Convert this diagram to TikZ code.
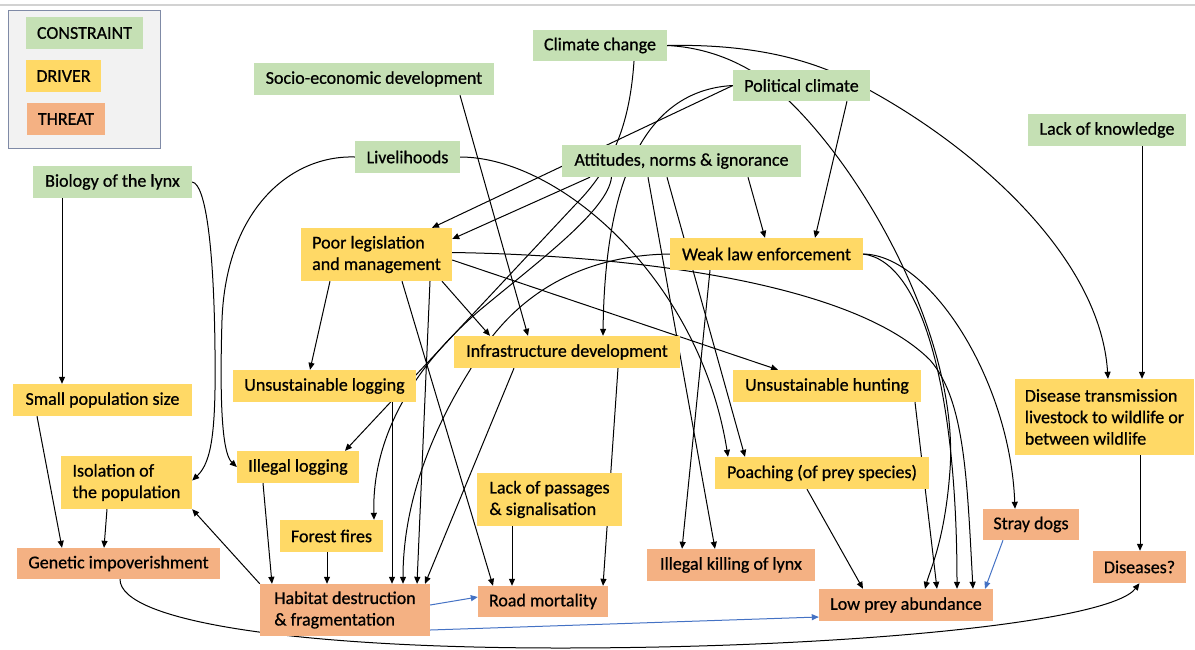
\documentclass[tikz,border=0pt]{standalone}
\usepackage{fontspec}
\setmainfont{Carlito}[FakeBold=0.7]
\usetikzlibrary{arrows.meta}
\pgfdeclarelayer{bg}
\pgfsetlayers{bg,main}
\definecolor{cgreen}{HTML}{C5E0B4}
\definecolor{cyellow}{HTML}{FFD966}
\definecolor{corange}{HTML}{F4B183}
\definecolor{cblue}{HTML}{4472C4}
\definecolor{leggray}{HTML}{F2F2F2}
\definecolor{legbord}{HTML}{7F8AA6}
\begin{document}
\begin{tikzpicture}[x=1pt,y=-1pt,
  font=\fontsize{18}{21.5}\selectfont,
  box/.style={inner sep=0pt, minimum height=32pt, text=black, anchor=center},
  cons/.style={box, fill=cgreen},
  drv/.style={box, fill=cyellow},
  thr/.style={box, fill=corange},
  arr/.style={-{Triangle[length=7pt,width=6pt]}, line width=1pt, black},
  barr/.style={arr, draw=cblue, -{Triangle[length=7pt,width=6pt,fill=cblue]}}]
\useasboundingbox (0,0) rectangle (1195,649);
\draw[gray!35, line width=1.2pt] (0,5) -- (1195,5);
% legend
\node[draw=legbord, fill=leggray, line width=1pt, minimum width=152pt, minimum height=138pt, inner sep=0pt] (leg) at (84,79) {};
\node[cons, minimum width=117pt] (lc) at (84.5,33) {CONSTRAINT};
\node[drv, minimum width=75pt] (ld) at (63.5,76) {DRIVER};
\node[thr, minimum width=78pt] (lt) at (66,119) {THREAT};
% constraints
\node[cons, minimum width=134pt, minimum height=31pt] (cc) at (600,45.5) {Climate change};
\node[cons, minimum width=240pt] (se) at (374,79) {Socio-economic development};
\node[cons, minimum width=137pt, minimum height=31pt] (pc) at (801.5,85.5) {Political climate};
\node[cons, minimum width=158pt] (lk) at (1107,130) {Lack of knowledge};
\node[cons, minimum width=105pt] (lv) at (407.5,157) {Livelihoods};
\node[cons, minimum width=239pt] (an) at (681.5,161) {Attitudes, norms \& ignorance};
\node[cons, minimum width=159pt] (bl) at (112.5,182) {Biology of the lynx};
% drivers
\node[drv, minimum width=151pt, minimum height=53pt, align=left] (pl) at (376.5,254.5) {Poor legislation\\and management};
\node[drv, minimum width=193pt] (wl) at (766.5,254) {Weak law enforcement};
\node[drv, minimum width=226pt] (id) at (567,352) {Infrastructure development};
\node[drv, minimum width=183pt] (ul) at (324.5,386) {Unsustainable logging};
\node[drv, minimum width=188pt] (uh) at (827,386) {Unsustainable hunting};
\node[drv, minimum width=179pt] (sp) at (102.5,400) {Small population size};
\node[drv, minimum width=179pt, minimum height=76pt, align=left] (dt) at (1104.5,417) {Disease transmission\\livestock to wildlife or\\between wildlife};
\node[drv, minimum width=131pt, minimum height=53pt, align=left] (ip) at (126.5,482.5) {Isolation of\\the population};
\node[drv, minimum width=122pt] (il) at (298,467) {Illegal logging};
\node[drv, minimum width=214pt] (po) at (822,473) {Poaching (of prey species)};
\node[drv, minimum width=145pt, minimum height=53pt, align=left] (lp) at (549.5,499.5) {Lack of passages\\\& signalisation};
\node[drv, minimum width=103pt] (ff) at (331.5,536) {Forest fires};
% threats
\node[thr, minimum width=96pt, minimum height=31pt] (sd) at (1031,524.5) {Stray dogs};
\node[thr, minimum width=168pt] (ik) at (731,565) {Illegal killing of lynx};
\node[thr, minimum width=203pt, minimum height=31pt] (gi) at (118.5,563.5) {Genetic impoverishment};
\node[thr, minimum width=93pt] (di) at (1139.5,567) {Diseases?};
\node[thr, minimum width=170pt, minimum height=52pt, align=left] (hd) at (345,610) {Habitat destruction\\\& fragmentation};
\node[thr, minimum width=130pt, minimum height=31pt] (rm) at (543,601.5) {Road mortality};
\node[thr, minimum width=174pt] (lo) at (906,605) {Low prey abundance};
\begin{pgfonlayer}{bg}
\draw[arr] ([xshift=-50.5pt]bl.south) -- ([xshift=-40.5pt]sp.north);
\draw[arr] (bl.east) .. controls (206,184) and (214,250) .. (215,350) .. controls (216,430) and (212,462) .. ([yshift=2pt]ip.east);
\draw[arr] ([xshift=-65.5pt]sp.south) -- ([xshift=-56.5pt]gi.north);
\draw[arr] ([xshift=-19.5pt]ip.south) -- ([xshift=-14.5pt]gi.north);
\draw[arr] (hd.north west) -- (ip.south east);
\draw[arr] (lv.west) .. controls (290,155) and (226,210) .. (222,320) .. controls (219,420) and (224,455) .. (il.west);
\draw[arr] ([xshift=34pt]cc.south) .. controls (630,120) and (615,165) .. (575,205) -- ([xshift=47pt]il.north);
\draw[arr] ([xshift=-70pt]an.south) .. controls (608,210) and (540,260) .. (480,310) .. controls (410,370) and (372,440) .. ([xshift=42.5pt]ff.north);
\draw[arr] (pc.west) -- ([xshift=55.5pt]pl.north);
\draw[arr] ([xshift=-91.5pt]an.south) -- ([yshift=15.5pt]pl.east);
\draw[arr] ([xshift=-46.5pt]pl.south) -- ([xshift=-14.5pt]ul.north);
\draw[arr] ([xshift=65.5pt]pl.south) -- ([xshift=-77pt]id.north);
\draw[arr] ([xshift=86pt]se.south) -- ([xshift=-39pt]id.north);
\draw[arr] (pc.west) .. controls (650,90) and (605,170) .. ([xshift=36pt]id.north);
\draw[arr] ([yshift=-5.5pt]pl.east) -- ([xshift=-49pt]uh.north);
\draw[arr] ([xshift=66.5pt]an.south) -- ([xshift=-1.5pt]wl.north);
\draw[arr] ([xshift=45.5pt]pc.south) -- ([xshift=48.5pt]wl.north);
\draw[arr] (cc.east) .. controls (740,44) and (800,55) .. (850,80) .. controls (960,135) and (1100,250) .. ([xshift=3.5pt]dt.north);
\draw[arr] (cc.east) .. controls (700,47) and (735,58) .. (765,80) .. controls (850,145) and (960,330) .. (950,470) .. controls (945,540) and (930,570) .. ([xshift=19pt]lo.north);
\draw[arr] ([xshift=35pt]lk.south) -- ([xshift=37.5pt]dt.north);
\draw[arr] ([xshift=35.5pt]dt.south) -- ([xshift=0.5pt]di.north);
\draw[arr] ([xshift=1.5pt]gi.south) .. controls (120,622) and (300,648) .. (560,648) .. controls (850,648) and (1110,622) .. (di.south);
\draw[arr] (wl.east) .. controls (930,255) and (1010,380) .. ([xshift=-16pt]sd.north);
\draw[barr] ([xshift=-28pt]sd.south) -- ([xshift=79pt]lo.north);
\draw[arr] ([xshift=-15pt]po.south) -- ([xshift=-43pt]lo.north);
\draw[arr] ([xshift=88pt]uh.south) -- ([xshift=31pt]lo.north);
\draw[arr] (wl.east) .. controls (925,262) and (957,400) .. ([xshift=51pt]lo.north);
\draw[arr] ([yshift=2pt]pl.east) .. controls (620,255) and (850,280) .. (930,360) .. controls (965,400) and (967,480) .. ([xshift=67pt]lo.north);
\draw[arr] ([xshift=-56.5pt]wl.south) -- ([xshift=-49pt]ik.north);
\draw[arr] ([xshift=-33.5pt]an.south) -- ([xshift=-16pt]ik.north);
\draw[arr] ([xshift=-14.5pt]an.south) -- ([xshift=-77pt]po.north);
\draw[arr] (lv.east) .. controls (560,157) and (700,280) .. ([xshift=-94pt]po.north);
\draw[arr] (wl.west) .. controls (600,255) and (520,280) .. (470,370) .. controls (420,450) and (403,520) .. ([xshift=58pt]hd.north);
\draw[arr] ([xshift=-53pt]id.south) -- ([xshift=80pt]hd.north);
\draw[arr] ([xshift=51pt]id.south) -- ([xshift=60pt]rm.north);
\draw[arr] ([xshift=25.5pt]pl.south) -- ([xshift=-50pt]rm.north);
\draw[arr] ([xshift=53.5pt]pl.south) -- ([xshift=72pt]hd.north);
\draw[arr] ([xshift=67.5pt]ul.south) -- ([xshift=47pt]hd.north);
\draw[arr] ([xshift=-35pt]il.south) -- ([xshift=-73pt]hd.north);
\draw[arr] ([xshift=-4.5pt]ff.south) -- ([xshift=-18pt]hd.north);
\draw[arr] ([xshift=-37.5pt]lp.south) -- ([xshift=-31pt]rm.north);
\draw[barr] ([yshift=5pt]hd.east) -- ([yshift=4.5pt]rm.west);
\draw[barr] ([yshift=-20pt]hd.east) -- ([yshift=-12pt]lo.west);
\end{pgfonlayer}
\end{tikzpicture}
\end{document}
